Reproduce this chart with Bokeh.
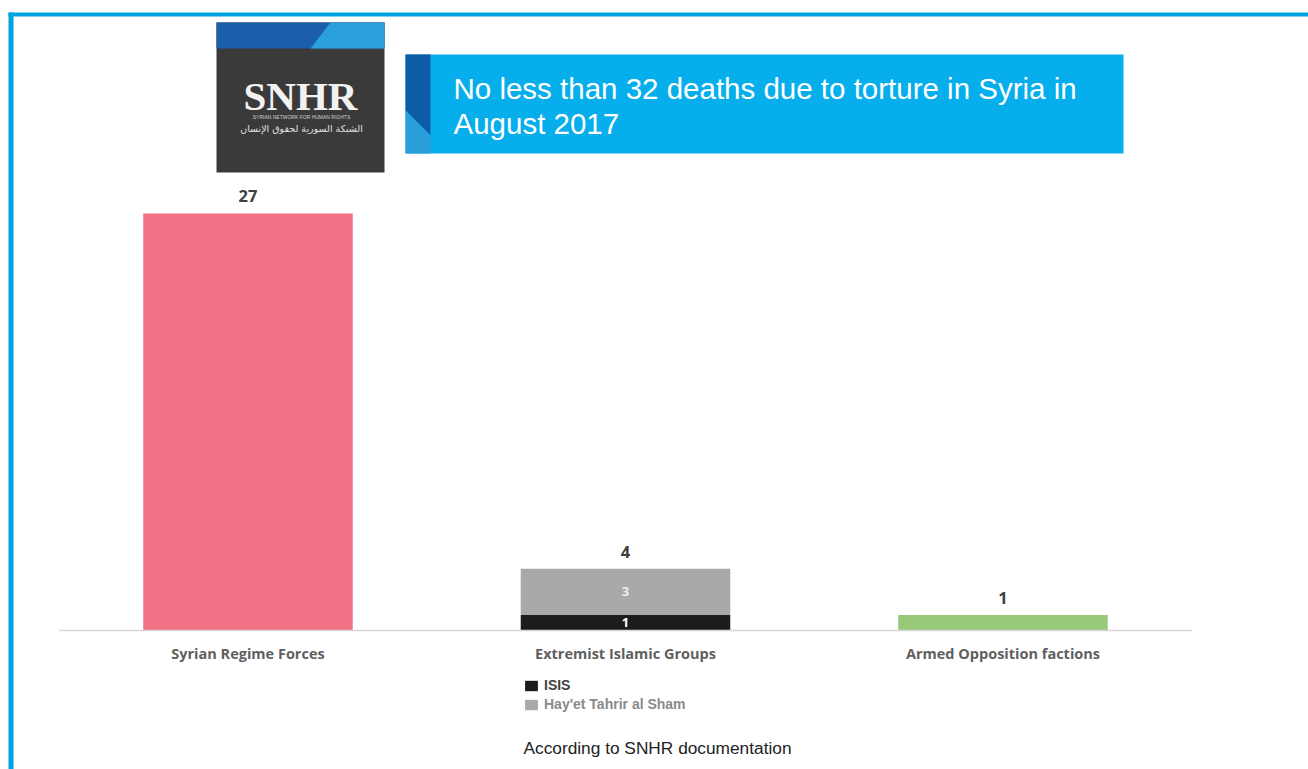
from bokeh.plotting import figure
from bokeh.models import (ColumnDataSource, Range1d, BoxAnnotation, PolyAnnotation,
                          Label, Legend, LegendItem)
from bokeh.core.properties import value
from bokeh.embed import file_html
from bokeh.resources import INLINE

# ---------------- data ----------------
categories = ["Syrian Regime Forces", "Extremist Islamic Groups", "Armed Opposition factions"]
regime = [27, 0, 0]
isis = [0, 1, 0]
hts = [0, 3, 0]
opposition = [0, 0, 1]
legend_labels = ["ISIS", "Hay'et Tahrir al Sham"]
title_lines = ["No less than 32 deaths due to torture in Syria in", "August 2017"]
source_note = "According to SNHR documentation"
logo_name = "SNHR"
logo_en = "SYRIAN NETWORK FOR HUMAN RIGHTS"
logo_ar = "الشبكة السورية لحقوق الإنسان"

# ---------------- styles ----------------
PINK, BLACK, GRAY, GREEN = "#f17083", "#1c1c1c", "#a9a9a9", "#98c97a"
W, H = 1308, 769

p = figure(width=W, height=H, output_backend="svg", toolbar_location=None,
           x_range=Range1d(-0.6556, 2.8093), y_range=Range1d(-9.0, 40.79),
           x_axis_location=None, y_axis_location=None, min_border=0,
           background_fill_color="white", border_fill_color="white",
           outline_line_color=None)
p.grid.visible = False

xs = list(range(len(categories)))
src = ColumnDataSource(dict(x=xs, regime=regime, isis=isis, hts=hts, opposition=opposition))
rends = p.vbar_stack(["regime", "isis", "hts", "opposition"], x="x", width=0.555, source=src,
                     fill_color=[PINK, BLACK, GRAY, GREEN], line_color=None)

# baseline over the category extent
p.segment(x0=[-0.5], x1=[len(categories) - 0.5], y0=[0], y1=[0],
          line_color="#d6d6d6", line_width=1.5)

# totals above bars
totals = [a + b + c + d for a, b, c, d in zip(regime, isis, hts, opposition)]
tot_src = ColumnDataSource(dict(x=xs, y=totals, text=[str(t) for t in totals]))
p.text("x", "y", "text", source=tot_src, text_align="center", text_baseline="middle",
       y_offset=-17, text_font=value("Open Sans"), text_font_style="bold",
       text_font_size="16.5px", text_color="#404040")

# segment labels inside the stacked bar
sx, sy, st, sc = [], [], [], []
for i, (a, b) in enumerate(zip(isis, hts)):
    if a:
        sx.append(i); sy.append(a / 2); st.append(str(a)); sc.append("#ffffff")
    if b:
        sx.append(i); sy.append(a + b / 2); st.append(str(b)); sc.append("#ededed")
seg_src = ColumnDataSource(dict(x=sx, y=sy, text=st, color=sc))
p.text("x", "y", "text", source=seg_src, text_align="center", text_baseline="middle",
       text_font=value("Open Sans"), text_font_style="bold", text_font_size="13px",
       text_color="color")

# category labels
cat_src = ColumnDataSource(dict(x=xs, y=[0] * len(xs), text=categories))
p.text("x", "y", "text", source=cat_src, text_align="center", text_baseline="middle",
       y_offset=23, text_font=value("Open Sans"), text_font_style="bold",
       text_font_size="14.5px", text_color="#5f5f5f")

# ---------------- decorations (canvas units) ----------------
def box(l, t, r, b, color):
    p.add_layout(BoxAnnotation(left=l, right=r, top=t, bottom=b,
                               left_units="canvas", right_units="canvas",
                               top_units="canvas", bottom_units="canvas",
                               fill_color=color, fill_alpha=1.0, line_color=None))

def poly(xs_, ys_, color):
    p.add_layout(PolyAnnotation(xs=xs_, ys=ys_, xs_units="canvas", ys_units="canvas",
                                fill_color=color, fill_alpha=1.0, line_color=None))

def label(x, y, text, font, size, color, style="normal", align="left"):
    p.add_layout(Label(x=x, y=y, x_units="canvas", y_units="canvas", text=text,
                       text_font=font, text_font_size=size, text_color=color,
                       text_font_style=style, text_align=align, text_baseline="middle"))

# frame border (top and left)
box(8, 12, W, 16, "#00a3e2")
box(8, 12, 13, H, "#00a3e2")

# logo
box(216, 22, 384, 172, "#3b3a3a")
box(216, 22, 384, 48, "#1b5ea9")
poly([330, 384, 384, 310], [22, 22, 48, 48], "#2ba0da")
label(300, 95, logo_name, "Liberation Serif", "41px", "#f2f2f2", style="bold", align="center")
label(301, 116, logo_en, "Liberation Sans", "5px", "#d0d0d0", align="center")
label(301, 128, logo_ar, "DejaVu Sans", "9.5px", "#e0e0e0", align="center")

# banner
box(405, 54, 1123, 153, "#07aeec")
poly([405, 430, 430, 405], [54, 54, 135, 110], "#0e5ba7")
poly([405, 430, 430, 405], [110, 135, 153, 153], "#2b9fd9")
label(453, 88, title_lines[0], "Liberation Sans", "29.5px", "#ffffff")
label(453, 123, title_lines[1], "Liberation Sans", "29.5px", "#ffffff")

# footer
label(523, 747, source_note, "Liberation Sans", "17.3px", "#222222")

# legends (one per item, so each label keeps its own colour)
for item_label, rend, bottom, col in [(legend_labels[0], rends[1], 76, "#3f3f3f"),
                                      (legend_labels[1], rends[2], 57, "#8a8a8a")]:
    leg = Legend(items=[LegendItem(label=item_label, renderers=[rend])],
                 location=(523, bottom), padding=0, margin=0, spacing=0,
                 glyph_width=16, glyph_height=13, label_height=13, label_standoff=5,
                 label_text_font="Liberation Sans", label_text_font_size="14px",
                 label_text_font_style="bold", label_text_color=col,
                 border_line_color=None, background_fill_alpha=0)
    p.add_layout(leg)

open("out.html", "w").write(file_html(p, INLINE))
